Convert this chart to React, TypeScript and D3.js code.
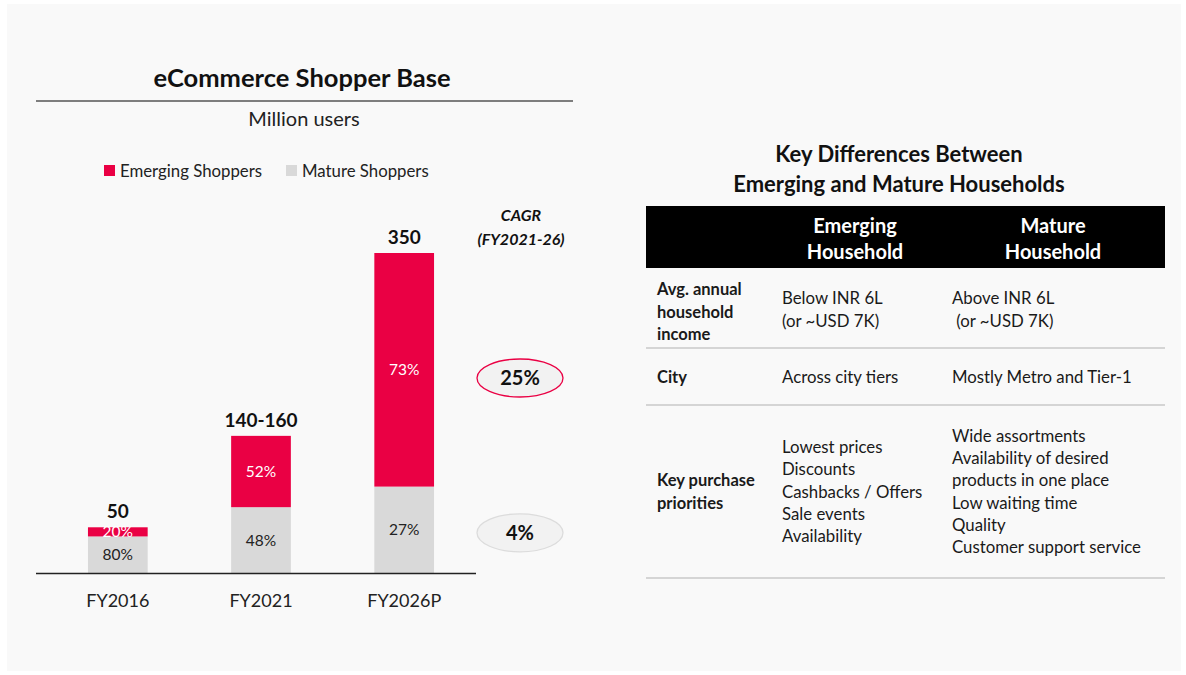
import React, { useEffect, useRef } from "react";
import * as d3 from "d3";

const categories = ["FY2016", "FY2021", "FY2026P"];
const totals = [50, 150, 350];
const totalLabels = ["50", "140-160", "350"];
const emergingShare = [20, 52, 73];
const matureShare = [80, 48, 27];
const seriesNames = ["Emerging Shoppers", "Mature Shoppers"];
const cagrValues = ["25%", "4%"];

const tableHeaders = [["Emerging", "Household"], ["Mature", "Household"]];
const rowLabels = [["Avg. annual", "household", "income"], ["City"], ["Key purchase", "priorities"]];
const emergingCells = [["Below INR 6L", "(or ~USD 7K)"], ["Across city tiers"], ["Lowest prices", "Discounts", "Cashbacks / Offers", "Sale events", "Availability"]];
const matureCells = [["Above INR 6L", " (or ~USD 7K)"], ["Mostly Metro and Tier-1"], ["Wide assortments", "Availability of desired", "products in one place", "Low waiting time", "Quality", "Customer support service"]];

const RED = "#ea0044";
const GREY = "#d9d9d9";
const FONT = "Lato, 'Open Sans', sans-serif";

function App() {
  const ref = useRef<SVGSVGElement>(null);

  useEffect(() => {
    const width = 1186;
    const height = 675;
    const svg = d3.select(ref.current);
    svg.selectAll("*").remove();
    svg.attr("width", width).attr("height", height).style("font-family", FONT);

    // panel background
    svg.append("rect").attr("width", width).attr("height", height).attr("fill", "#fff");
    svg.append("rect").attr("x", 7).attr("y", 4).attr("width", 1174).attr("height", 667).attr("fill", "#f9f9f9");

    // ---- left: bar chart ----
    svg.append("text").attr("x", 302).attr("y", 87).attr("text-anchor", "middle")
      .attr("font-size", 25.5).attr("font-weight", 700).attr("fill", "#111")
      .text("eCommerce Shopper Base");
    svg.append("line").attr("x1", 36).attr("x2", 573).attr("y1", 101).attr("y2", 101)
      .attr("stroke", "#555").attr("stroke-width", 1.5);
    svg.append("text").attr("x", 304).attr("y", 126).attr("text-anchor", "middle")
      .attr("font-size", 20).attr("fill", "#222").text("Million users");

    // legend
    const legend = svg.append("g").attr("font-size", 16.8).attr("fill", "#222");
    [[104, RED], [286, GREY]].forEach(([lx, c], i) => {
      legend.append("rect").attr("x", lx as number).attr("y", 165).attr("width", 11).attr("height", 11).attr("fill", c as string);
      legend.append("text").attr("x", (lx as number) + 16).attr("y", 177).text(seriesNames[i]);
    });

    const x = d3.scaleBand()
      .domain(categories)
      .range([45, 477])
      .paddingInner(0.583)
      .paddingOuter(0.3);

    const y = d3.scaleLinear()
      .domain([0, 350])
      .range([573, 253]);

    const bars = svg.append("g");
    categories.forEach((cat, i) => {
      const x0 = x(cat) as number;
      const bw = x.bandwidth();
      const cx = x0 + bw / 2;
      const matureVal = totals[i] * matureShare[i] / 100;
      // mature (bottom)
      bars.append("rect").attr("x", x0).attr("width", bw)
        .attr("y", y(matureVal)).attr("height", y(0) - y(matureVal)).attr("fill", GREY);
      // emerging (top)
      bars.append("rect").attr("x", x0).attr("width", bw)
        .attr("y", y(totals[i])).attr("height", y(matureVal) - y(totals[i])).attr("fill", RED);

      bars.append("text").attr("x", cx).attr("y", (y(matureVal) + y(0)) / 2 + 5.5)
        .attr("text-anchor", "middle").attr("font-size", 15.5).attr("fill", "#222")
        .text(matureShare[i] + "%");
      bars.append("text").attr("x", cx).attr("y", (y(totals[i]) + y(matureVal)) / 2 + 5.5)
        .attr("text-anchor", "middle").attr("font-size", 15.5).attr("fill", "#fff")
        .text(emergingShare[i] + "%");

      bars.append("text").attr("x", cx).attr("y", y(totals[i]) - 9)
        .attr("text-anchor", "middle").attr("font-size", 19).attr("font-weight", 700).attr("fill", "#111")
        .text(totalLabels[i]);
    });

    const xAxis = g => g
      .attr("transform", `translate(0, ${y(0)})`)
      .call(d3.axisBottom(x).tickSize(0).tickPadding(21))
      .call(g => g.select(".domain").attr("d", `M36,0.5H476`).attr("stroke", "#222").attr("stroke-width", 1.5))
      .call(g => g.selectAll("text").attr("font-size", 18).attr("font-family", FONT).attr("fill", "#222"));
    svg.append("g").call(xAxis);

    // CAGR
    const cagr = svg.append("g").attr("text-anchor", "middle").attr("font-style", "italic")
      .attr("font-weight", 700).attr("font-size", 16).attr("fill", "#111");
    cagr.append("text").attr("x", 521).attr("y", 221).text("CAGR");
    cagr.append("text").attr("x", 521).attr("y", 245).text("(FY2021-26)");

    const cagrY = [(y(350) + y(350 * 0.27)) / 2, (y(350 * 0.27) + y(0)) / 2];
    cagrValues.forEach((v, i) => {
      const cy = i === 0 ? 378 : cagrY[1] + 3;
      svg.append("ellipse").attr("cx", 520).attr("cy", cy).attr("rx", 43).attr("ry", 19)
        .attr("fill", "#f2f2f2").attr("stroke", i === 0 ? RED : "#dcdcdc").attr("stroke-width", 1.3);
      svg.append("text").attr("x", 520).attr("y", cy + 7).attr("text-anchor", "middle")
        .attr("font-size", 20).attr("font-weight", 700).attr("fill", "#111").text(v);
    });

    // ---- right: table ----
    const t = svg.append("g").attr("fill", "#111");
    t.append("text").attr("x", 899).attr("y", 162).attr("text-anchor", "middle")
      .attr("font-size", 22).attr("font-weight", 700).text("Key Differences Between");
    t.append("text").attr("x", 899).attr("y", 192).attr("text-anchor", "middle")
      .attr("font-size", 22).attr("font-weight", 700).text("Emerging and Mature Households");

    t.append("rect").attr("x", 646).attr("y", 206).attr("width", 519).attr("height", 62).attr("fill", "#000");
    [855, 1053].forEach((hx, i) => {
      tableHeaders[i].forEach((line, j) => {
        t.append("text").attr("x", hx).attr("y", 233 + j * 26).attr("text-anchor", "middle")
          .attr("font-size", 20).attr("font-weight", 700).attr("fill", "#fff").text(line);
      });
    });

    const rowBounds = [268, 348, 405, 578];
    const lineH = 22.3;
    rowBounds.slice(1).forEach(ry => {
      t.append("line").attr("x1", 646).attr("x2", 1165).attr("y1", ry).attr("y2", ry)
        .attr("stroke", "#c8c8c8").attr("stroke-width", 1.5);
    });

    const block = (lines: string[], bx: number, cy: number, bold: boolean) => {
      const top = cy - (lines.length - 1) * lineH / 2;
      lines.forEach((line, k) => {
        t.append("text").attr("x", bx).attr("y", top + k * lineH + 5.5)
          .attr("font-size", bold ? 16.5 : 16.8).attr("font-weight", bold ? 700 : 400)
          .attr("fill", "#1a1a1a").style("white-space", "pre").text(line);
      });
    };
    const rowCenters = [
      [312, 310, 310],
      [377, 377, 377],
      [492, 492, 492],
    ];
    rowLabels.forEach((lab, r) => {
      block(lab, 657, rowCenters[r][0], true);
      block(emergingCells[r], 782, rowCenters[r][1], false);
      block(matureCells[r], 952, rowCenters[r][2], false);
    });
  }, []);

  return (
    <div style={{ position: "absolute", left: 0, top: 0 }}>
      <svg ref={ref}></svg>
    </div>
  );
}

export default App;
